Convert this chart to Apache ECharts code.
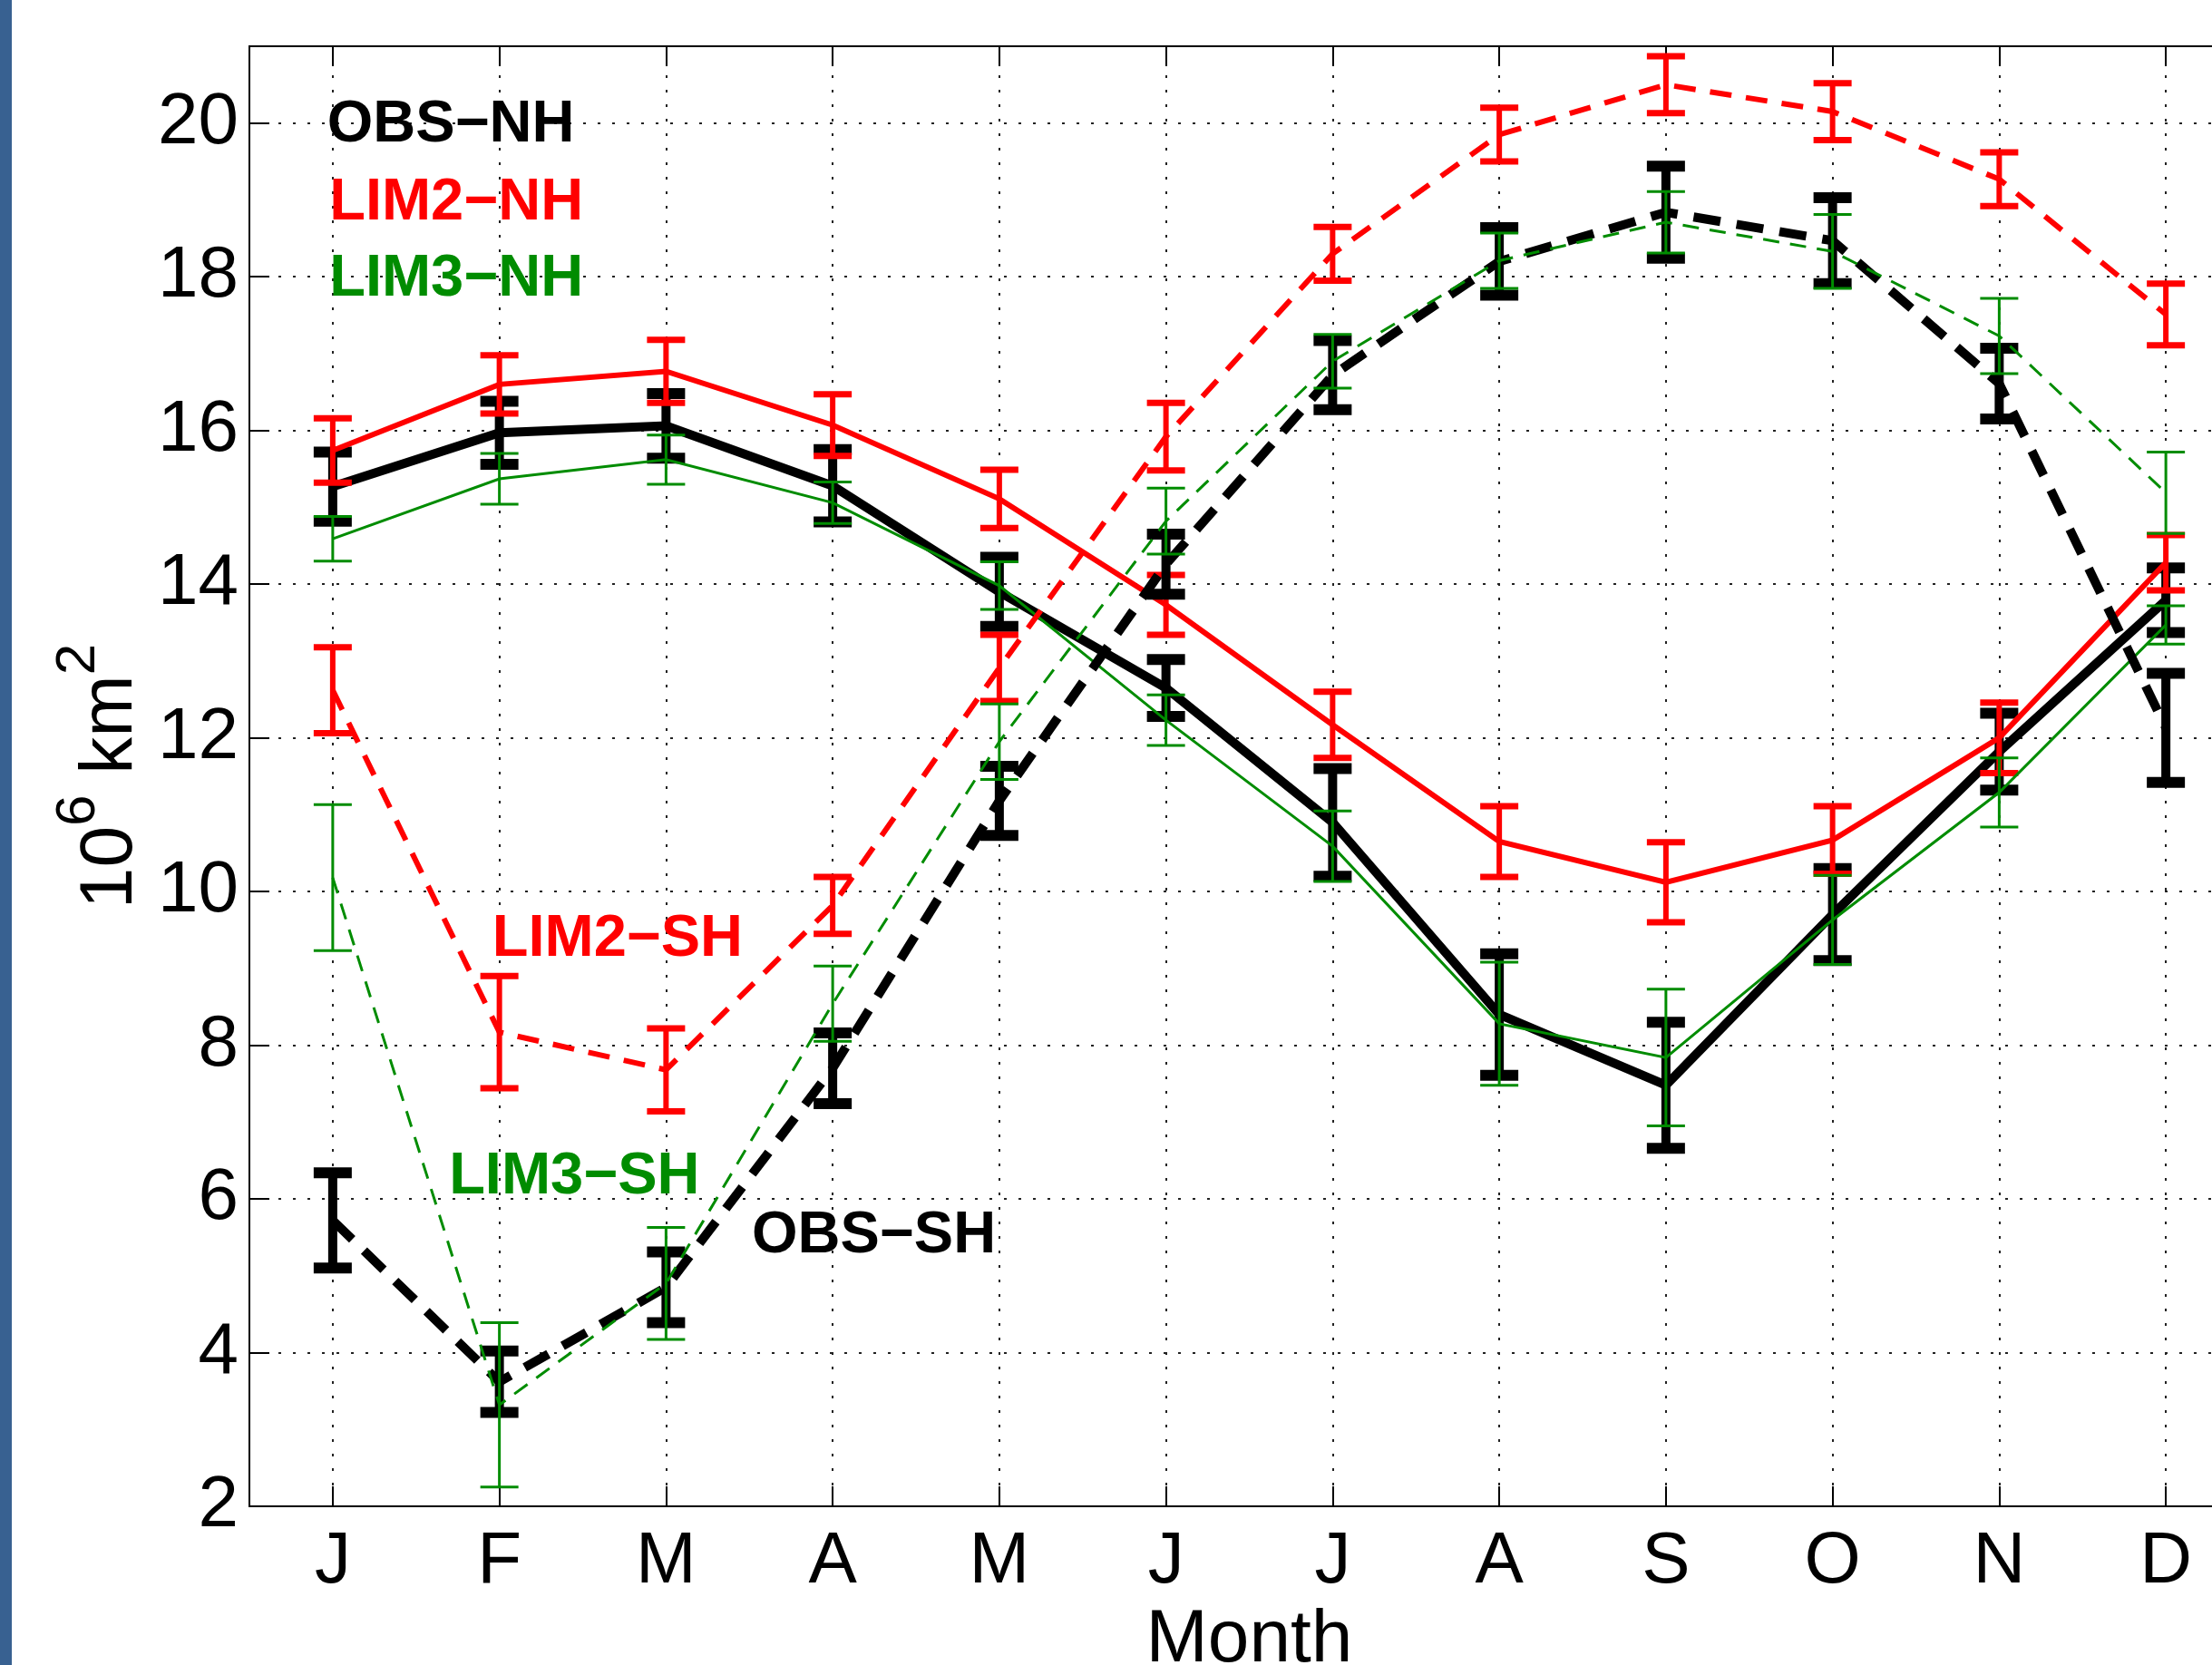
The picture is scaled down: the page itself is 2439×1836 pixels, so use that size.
<!DOCTYPE html>
<html><head><meta charset="utf-8">
<script src="https://cdn.jsdelivr.net/npm/echarts@6/dist/echarts.min.js"></script>
<style>html,body{margin:0;padding:0;background:#fff}#c{width:2439px;height:1836px}</style>
</head><body><div id="c"></div>
<script>
// ---- data ----
const months = ['J','F','M','A','M','J','J','A','S','O','N','D'];
const monthNumbers = [1,2,3,4,5,6,7,8,9,10,11,12];

const obsNH    = [15.27, 15.97, 16.06, 15.28, 13.90, 12.65, 10.90, 8.40, 7.48, 9.70, 11.82, 13.79];
const obsNHErr = [0.45, 0.41, 0.42, 0.47, 0.45, 0.37, 0.70, 0.79, 0.82, 0.60, 0.50, 0.42];
const lim2NH    = [15.74, 16.60, 16.77, 16.07, 15.11, 13.73, 12.17, 10.65, 10.12, 10.67, 12.00, 14.28];
const lim2NHErr = [0.42, 0.38, 0.41, 0.40, 0.38, 0.39, 0.43, 0.46, 0.52, 0.44, 0.46, 0.36];
const lim3NH    = [14.59, 15.37, 15.62, 15.06, 13.98, 12.23, 10.59, 8.28, 7.84, 9.63, 11.29, 13.47];
const lim3NHErr = [0.29, 0.33, 0.32, 0.27, 0.31, 0.33, 0.46, 0.80, 0.89, 0.58, 0.45, 0.25];

const obsSH    = [5.72, 3.62, 4.85, 7.70, 11.18, 14.26, 16.72, 18.20, 18.84, 18.47, 16.61, 12.13];
const obsSHErr = [0.62, 0.40, 0.46, 0.46, 0.45, 0.39, 0.45, 0.44, 0.60, 0.56, 0.46, 0.71];
const lim2SH    = [12.62, 8.17, 7.68, 9.82, 12.91, 15.92, 18.30, 19.85, 20.50, 20.15, 19.27, 17.51];
const lim2SHErr = [0.56, 0.73, 0.54, 0.37, 0.43, 0.44, 0.35, 0.35, 0.37, 0.37, 0.35, 0.40];
const lim3SH    = [10.18, 3.32, 4.90, 8.54, 11.95, 14.82, 16.90, 18.21, 18.71, 18.33, 17.23, 15.19];
const lim3SHErr = [0.95, 1.07, 0.73, 0.49, 0.49, 0.43, 0.35, 0.36, 0.40, 0.48, 0.49, 0.53];

const yMin = 2, yMax = 21, yStep = 2;

// in-plot text labels (anchored in data coordinates: month, value)
const noteTexts  = ['OBS\u2212NH', 'LIM2\u2212NH', 'LIM3\u2212NH', 'LIM2\u2212SH', 'LIM3\u2212SH', 'OBS\u2212SH'];
const noteMonth  = [0.967, 0.98, 0.98, 1.957, 1.698, 3.515];
const noteValue  = [19.97, 18.96, 17.97, 9.38, 6.28, 5.51];

// ---- styles ----
const BLACK = '#000000', RED = '#ff0000', GREEN = '#008c00';
const noteColors = [BLACK, RED, GREEN, RED, GREEN, BLACK];
const FONT = "'Liberation Sans', Arial, Helvetica, sans-serif";

function lineSeries(name, vals, color, width, dash, z) {
  return {
    type: 'line', name, xAxisIndex: 0, yAxisIndex: 0, z,
    data: vals.map((v, i) => [monthNumbers[i], v]),
    symbol: 'none', silent: true, animation: false,
    lineStyle: { color, width, type: dash || 'solid', cap: 'butt', join: 'miter' }
  };
}
function errSeries(name, vals, errs, color, stemW, capT, capHalf, z) {
  return {
    type: 'custom', name: name + ' err', xAxisIndex: 0, yAxisIndex: 0, z, silent: true, animation: false,
    data: vals.map((v, i) => [monthNumbers[i], v - errs[i], v + errs[i]]),
    renderItem(params, api) {
      const x = api.value(0);
      const lo = api.coord([x, api.value(1)]);
      const hi = api.coord([x, api.value(2)]);
      const st = { stroke: color, lineWidth: stemW, lineCap: 'butt' };
      const ct = { stroke: color, lineWidth: capT, lineCap: 'butt' };
      return { type: 'group', children: [
        { type: 'line', shape: { x1: lo[0], y1: lo[1], x2: hi[0], y2: hi[1] }, style: st },
        { type: 'line', shape: { x1: lo[0] - capHalf, y1: lo[1], x2: lo[0] + capHalf, y2: lo[1] }, style: ct },
        { type: 'line', shape: { x1: hi[0] - capHalf, y1: hi[1], x2: hi[0] + capHalf, y2: hi[1] }, style: ct }
      ]};
    }
  };
}

const notesSeries = {
  type: 'custom', xAxisIndex: 0, yAxisIndex: 0, z: 20, silent: true, animation: false,
  data: noteTexts.map((t, i) => [noteMonth[i], noteValue[i], i]),
  renderItem(params, api) {
    const p = api.coord([api.value(0), api.value(1)]);
    const i = api.value(2);
    return { type: 'text', x: p[0], y: p[1], style: {
      text: noteTexts[i], fill: noteColors[i], font: "bold 65px 'Liberation Sans', Arial, sans-serif",
      align: 'left', verticalAlign: 'middle' } };
  }
};

const tickStyle = { color: '#000', width: 2 };
const gridDots = { color: '#222', width: 2, type: [3, 13] };

const option = {
  animation: false,
  backgroundColor: '#ffffff',
  grid: { left: 275, top: 51, width: 2205, height: 1610, show: true, borderColor: '#000', borderWidth: 2,
          backgroundColor: 'transparent', containLabel: false, outerBoundsMode: 'none' },
  graphic: [{ type: 'rect', left: 0, top: 0, shape: { width: 13, height: 1836 }, style: { fill: '#386191' }, z: 100 }],
  xAxis: [
    { type: 'value', show: false, min: 0.5, max: 12.5, gridIndex: 0 },
    { type: 'category', position: 'bottom', data: months, boundaryGap: true, gridIndex: 0,
      name: 'Month', nameLocation: 'middle', nameGap: 92,
      nameTextStyle: { fontFamily: FONT, fontSize: 82, color: '#000' },
      axisLine: { show: true, lineStyle: { color: '#000', width: 2 } },
      axisTick: { show: true, inside: true, length: 22, alignWithLabel: true, interval: 0, lineStyle: tickStyle },
      axisLabel: { show: true, interval: 0, margin: 22, fontFamily: FONT, fontSize: 80, color: '#000' },
      splitLine: { show: true, alignWithLabel: true, interval: 0, lineStyle: gridDots } },
    { type: 'category', position: 'top', data: months, boundaryGap: true, gridIndex: 0,
      axisLine: { show: true, lineStyle: { color: '#000', width: 2 } },
      axisTick: { show: true, inside: true, length: 22, alignWithLabel: true, interval: 0, lineStyle: tickStyle },
      axisLabel: { show: false }, splitLine: { show: false } }
  ],
  yAxis: [{
    type: 'value', min: yMin, max: yMax, interval: yStep, gridIndex: 0,
    name: '{a|10}{s|6}{a| km}{s|2}', nameLocation: 'middle', nameGap: 112, nameRotate: 90,
    nameTextStyle: { color: '#000', rich: {
      a: { fontFamily: FONT, fontSize: 82, lineHeight: 82, color: '#000', verticalAlign: 'bottom' },
      s: { fontFamily: FONT, fontSize: 62, lineHeight: 107, color: '#000', verticalAlign: 'top' }
    } },
    axisLine: { show: true, lineStyle: { color: '#000', width: 2 } },
    axisTick: { show: true, inside: true, length: 22, lineStyle: tickStyle },
    axisLabel: { show: true, margin: 12, fontFamily: FONT, fontSize: 80, color: '#000', showMaxLabel: false,
      formatter: v => (v > 20 ? '' : String(v)) },
    splitLine: { show: true, lineStyle: gridDots }
  }],
  series: [
    lineSeries('OBS-NH', obsNH, BLACK, 10, null, 3),
    errSeries('OBS-NH', obsNH, obsNHErr, BLACK, 10, 12, 21, 3),
    lineSeries('LIM2-NH', lim2NH, RED, 6, null, 4),
    errSeries('LIM2-NH', lim2NH, lim2NHErr, RED, 6, 7, 21, 4),
    lineSeries('LIM3-NH', lim3NH, GREEN, 3, null, 5),
    errSeries('LIM3-NH', lim3NH, lim3NHErr, GREEN, 3, 3, 21, 5),
    lineSeries('OBS-SH', obsSH, BLACK, 10, [30, 18], 6),
    errSeries('OBS-SH', obsSH, obsSHErr, BLACK, 10, 12, 21, 6),
    lineSeries('LIM2-SH', lim2SH, RED, 6, [24, 16], 7),
    errSeries('LIM2-SH', lim2SH, lim2SHErr, RED, 6, 7, 21, 7),
    lineSeries('LIM3-SH', lim3SH, GREEN, 3, [18, 12], 8),
    errSeries('LIM3-SH', lim3SH, lim3SHErr, GREEN, 3, 3, 21, 8),
    notesSeries
  ]
};
const chart = echarts.init(document.getElementById('c'), null, { renderer: 'canvas', width: 2439, height: 1836 });
chart.setOption(option);
</script></body></html>
